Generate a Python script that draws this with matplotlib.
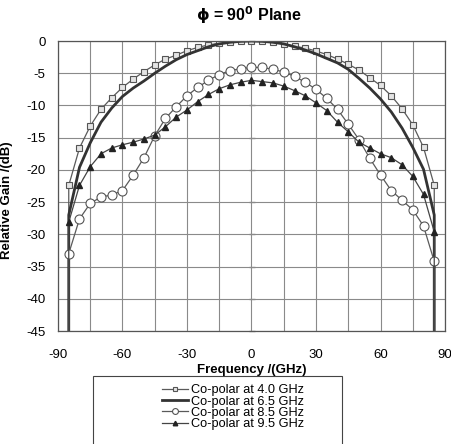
import numpy as np
import matplotlib
matplotlib.use('Agg')
from matplotlib import pyplot as plt
from matplotlib.patches import Rectangle

plt.rcParams['font.family'] = ['Liberation Sans', 'DejaVu Sans']
plt.rcParams['axes.unicode_minus'] = False

# angles of the measured points (deg); curves drop to the floor at both ends
ang = np.arange(-85, 90, 5)
floor = -45

g40 = [-22.4, -16.6, -13.2, -10.6, -8.8, -7.2, -5.9, -4.75, -3.7, -2.8, -2.2,
       -1.5, -1.0, -0.6, -0.35, -0.15, -0.05, 0.0,
       0.0, -0.15, -0.45, -0.8, -1.1, -1.55, -2.1, -2.8, -3.6, -4.5, -5.7,
       -6.9, -8.5, -10.5, -13.0, -16.5, -22.4]
g65 = [-27.0, -19.6, -15.8, -12.6, -10.4, -8.6, -7.3, -6.2, -5.0, -3.9, -2.9,
       -2.1, -1.5, -0.9, -0.45, -0.2, -0.05, 0.0,
       -0.05, -0.2, -0.45, -0.9, -1.4, -2.0, -2.7, -3.4, -4.4, -5.8, -7.3,
       -9.0, -11.0, -13.5, -16.5, -19.9, -27.0]
g85 = [-33.0, -27.6, -25.2, -24.2, -23.9, -23.2, -20.8, -18.1, -14.7, -12.0, -10.2,
       -8.5, -7.2, -6.1, -5.2, -4.6, -4.3, -4.1,
       -4.1, -4.4, -4.8, -5.5, -6.4, -7.5, -8.9, -10.6, -12.9, -15.3, -18.2,
       -20.8, -23.2, -24.7, -26.2, -28.7, -34.2]
g95 = [-28.1, -22.4, -19.5, -17.5, -16.6, -16.1, -15.7, -15.2, -14.6, -13.3, -11.8,
       -10.7, -9.4, -8.3, -7.4, -6.8, -6.4, -6.1,
       -6.3, -6.5, -7.0, -7.7, -8.5, -9.6, -10.8, -12.6, -14.1, -15.7, -16.6,
       -17.5, -18.1, -19.2, -21.0, -23.8, -29.6]

labels = ['Co-polar at 4.0 GHz', 'Co-polar at 6.5 GHz',
          'Co-polar at 8.5 GHz', 'Co-polar at 9.5 GHz']

xt = np.arange(-90, 91, 15)
yt = np.arange(-45, 1, 5)


def full(v):
    return np.r_[ang[0], ang, ang[-1]], np.r_[floor, v, floor]


fig = plt.figure(figsize=(4.52, 4.44), dpi=100)
ax = fig.add_axes([58 / 452, 1 - 331 / 444, 387 / 452, 290 / 444])

mk = slice(1, -1)
x, y = full(g40)
l1, = ax.plot(x, y, color='#5a5a5a', lw=0.9, marker='s', ms=5, mfc='#e4e4e4',
              mec='#555555', mew=0.8, markevery=mk, label=labels[0])
x, y = full(g65)
l2, = ax.plot(x, y, color='#333333', lw=2.0, label=labels[1])
x, y = full(g85)
l3, = ax.plot(x, y, color='#5a5a5a', lw=0.9, marker='o', ms=6.5, mfc='white',
              mec='#555555', mew=0.8, markevery=mk, label=labels[2])
x, y = full(g95)
l4, = ax.plot(x, y, color='#444444', lw=0.9, marker='^', ms=5, mfc='#222222',
              mec='#222222', markevery=mk, label=labels[3])

ax.set_xlim(-90, 90)
ax.set_ylim(-45, 0)
ax.set_xticks(xt)
ax.set_xticklabels([str(v) if v % 30 == 0 else '' for v in xt])
ax.set_yticks(yt)
ax.tick_params(length=0, labelsize=9.5, pad=9)
ax.tick_params(axis='x', pad=13)
ax.grid(True, color='#8a8a8a', lw=0.8)
for s in ax.spines.values():
    s.set_color('#555555')
    s.set_linewidth(0.9)

# value axis crossing at 0 deg, ticks only
sec = ax.secondary_yaxis(0.5)
sec.set_yticks(yt)
sec.set_yticklabels([])
sec.tick_params(labelleft=False, labelright=False, length=4,
                direction='inout', color='#555555', width=0.9)
sec.spines['left'].set_visible(False)
sec.spines['right'].set_visible(False)

ax.set_xlabel('Frequency /(GHz)', fontsize=9.5, fontweight='bold')
ax.set_ylabel('Relative Gain /(dB)', fontsize=9.5, fontweight='bold')
ax.xaxis.set_label_coords(0.5, -0.115)
ax.yaxis.set_label_coords(-0.116, 0.45)

fig.text(0.55, 1 - 15 / 444, r'$\mathbf{\phi}$ = 90$^{\mathbf{0}}$ Plane',
         ha='center', va='center', fontsize=11.5, fontweight='bold')

fig.patches.append(Rectangle((93 / 452, -0.05), 249 / 452, 0.05 + 68 / 444,
                             transform=fig.transFigure, fill=False,
                             edgecolor='#444444', lw=0.8))
fig.legend([l1, l2, l3, l4], labels, loc='upper left',
           bbox_to_anchor=(156 / 452, 1 - 378 / 444), frameon=False,
           fontsize=9.2, labelspacing=-0.06, handlelength=2.0, handletextpad=0.25,
           markerscale=0.65, borderpad=0)

fig.savefig('out.png', dpi=100)
